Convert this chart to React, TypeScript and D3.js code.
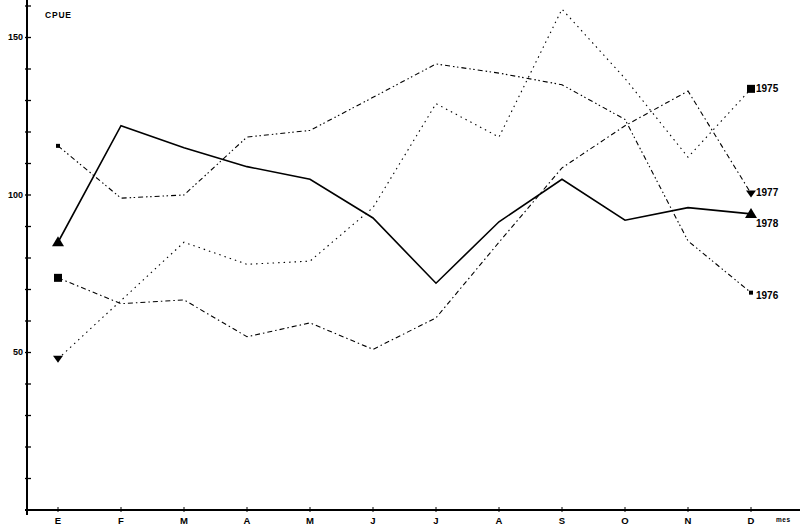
import * as d3 from 'd3'

const months = ['E', 'F', 'M', 'A', 'M', 'J', 'J', 'A', 'S', 'O', 'N', 'D']

// paths named after the marker they start with on the left (E).
// in the drawing the 1975 and 1977 lines swap between N and D.
const s1978 = [85, 122, 115, 109, 105, 92.7, 72, 91.5, 105, 92, 96, 94]
const s1975 = [73.7, 65.5, 66.7, 55, 59.4, 51, 61, 85, 108.6, 122, 133, 100.5]
const s1977 = [48, 66.5, 85, 78, 79, 96, 129, 118.4, 159, 137, 112, 133.7]
const s1976 = [115.6, 99, 100, 118.4, 120.5, 131, 141.6, 138.7, 135, 124, 85.4, 69]

const yLabels = [50, 100, 150]

type Shape = 'tri' | 'down' | 'square' | 'dot'

const series: {
  values: number[]
  dash: string | null
  width: number
  start: Shape
  end: Shape
  endLabel: string
  labelDy: number
}[] = [
  { values: s1978, dash: null, width: 1.6, start: 'tri', end: 'tri', endLabel: '1978', labelDy: 10 },
  { values: s1975, dash: '5 3 1.5 3', width: 1.1, start: 'square', end: 'down', endLabel: '1977', labelDy: -1 },
  { values: s1977, dash: '1.5 4', width: 1.1, start: 'down', end: 'square', endLabel: '1975', labelDy: 0 },
  { values: s1976, dash: '5 3 1.5 2.5 1.5 3', width: 1.1, start: 'dot', end: 'dot', endLabel: '1976', labelDy: 3 },
]

function Marker({ shape, x, y }: { shape: Shape; x: number; y: number }) {
  if (shape === 'tri') {
    return <path d={`M${x},${y - 6} L${x + 6},${y + 4} L${x - 6},${y + 4} Z`} fill="#000" />
  }
  if (shape === 'down') {
    return <path d={`M${x - 5},${y - 3} L${x + 5},${y - 3} L${x},${y + 4} Z`} fill="#000" />
  }
  if (shape === 'square') {
    return <rect x={x - 4} y={y - 4} width={8} height={8} fill="#000" />
  }
  return <rect x={x - 2} y={y - 2} width={4} height={4} fill="#000" />
}

export default function App() {
  const width = 800
  const height = 530
  const axisX = 27
  const axisY = 510

  const x = d3.scaleLinear().domain([0, 11]).range([58, 751])
  const y = d3.scaleLinear().domain([0, 160]).range([axisY, 6])

  const line = d3
    .line<number>()
    .x((d, i) => x(i))
    .y(d => y(d))

  const yTicks = d3.range(10, 170, 10)
  const font = '"Liberation Sans", Arial, sans-serif'

  return (
    <svg
      width={width}
      height={height}
      style={{ position: 'absolute', left: 0, top: 0, background: '#fff' }}
      fontFamily={font}
      fontWeight="bold"
    >
      {/* axes */}
      <line x1={axisX} y1={0} x2={axisX} y2={axisY + 5} stroke="#000" strokeWidth={2} />
      <line x1={axisX - 2} y1={axisY} x2={width} y2={axisY} stroke="#000" strokeWidth={2.2} />

      {yTicks.map(t => (
        <line key={t} x1={axisX - 2} x2={axisX + 4} y1={y(t)} y2={y(t)} stroke="#000" strokeWidth={1.3} />
      ))}
      {yLabels.map(t => (
        <text key={t} x={axisX - 4} y={y(t)} dy="0.3em" textAnchor="end" fontSize={9}>
          {t}
        </text>
      ))}
      <text x={45} y={18} fontSize={8.5} letterSpacing={0.8}>CPUE</text>

      {months.map((m, i) => (
        <g key={i}>
          <line x1={x(i)} x2={x(i)} y1={axisY - 3} y2={axisY + 2} stroke="#000" strokeWidth={1} />
          <text x={x(i)} y={524} textAnchor="middle" fontSize={9.5}>
            {m}
          </text>
        </g>
      ))}
      <text x={776} y={522} fontSize={6.5} letterSpacing={0.5}>mes</text>

      {/* lines */}
      {series.map((s, k) => (
        <g key={k}>
          <path
            d={line(s.values) ?? ''}
            fill="none"
            stroke="#000"
            strokeWidth={s.width}
            strokeDasharray={s.dash ?? undefined}
          />
          <Marker shape={s.start} x={x(0)} y={y(s.values[0])} />
          <Marker shape={s.end} x={x(11)} y={y(s.values[11])} />
          <text x={x(11) + 5} y={y(s.values[11]) + s.labelDy} dy="0.35em" fontSize={10}>
            {s.endLabel}
          </text>
        </g>
      ))}
    </svg>
  )
}
